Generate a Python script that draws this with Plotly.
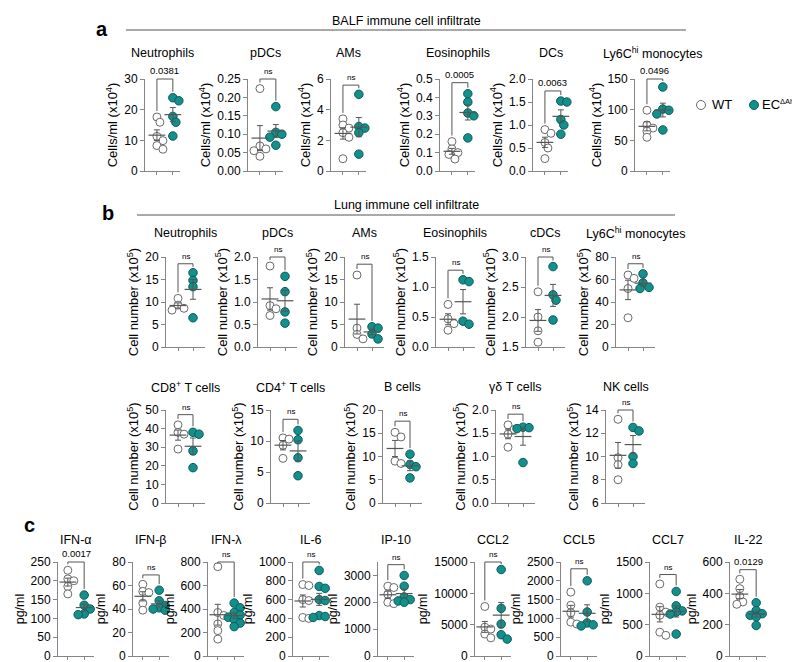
import numpy as np
import plotly.graph_objects as go

# ======================= DATA =======================
# ---- a: BALF immune cell infiltrate (Cells/ml x10^4)
a_titles = ["Neutrophils", "pDCs", "AMs", "Eosinophils", "DCs", "Ly6C<sup>hi</sup> monocytes"]
a_wt = [
    [17.6, 15.9, 11.3, 9.9, 8.3, 7.1],
    [0.224, 0.068, 0.060, 0.055, 0.040],
    [3.4, 3.0, 2.8, 2.5, 2.2, 0.8],
    [0.16, 0.12, 0.10, 0.09, 0.065],
    [0.90, 0.82, 0.62, 0.50, 0.27],
    [99, 75, 70, 65, 55],
]
a_ec = [
    [23.9, 22.9, 17.8, 15.9, 11.4],
    [0.175, 0.105, 0.100, 0.092, 0.070],
    [5.0, 2.9, 2.8, 2.5, 1.1],
    [0.42, 0.375, 0.315, 0.30, 0.18],
    [1.52, 1.50, 1.12, 1.00, 0.80],
    [137, 101, 99, 93, 67],
]
a_pvals = ["0.0381", "ns", "ns", "0.0005", "0.0063", "0.0496"]
a_yrange = [[0, 30], [0, 0.25], [0, 6], [0, 0.5], [0, 2.0], [0, 150]]
a_yticks = [[0, 10, 20, 30], [0, 0.05, 0.10, 0.15, 0.20, 0.25], [0, 2, 4, 6],
            [0, 0.1, 0.2, 0.3, 0.4, 0.5], [0, 0.5, 1.0, 1.5, 2.0], [0, 50, 100, 150]]
a_yticktext = [["0", "10", "20", "30"], ["0.00", "0.05", "0.10", "0.15", "0.20", "0.25"],
               ["0", "2", "4", "6"], ["0.0", "0.1", "0.2", "0.3", "0.4", "0.5"],
               ["0.0", "0.5", "1.0", "1.5", "2.0"], ["0", "50", "100", "150"]]
a_bracket = [30, 0.25, 5.6, 0.48, 1.74, 150]

# ---- b (row 1): Lung immune cell infiltrate (Cell number x10^5)
b1_titles = ["Neutrophils", "pDCs", "AMs", "Eosinophils", "cDCs", "Ly6C<sup>hi</sup> monocytes"]
b1_wt = [[10.8, 9.3, 8.6, 8.2], [1.80, 0.92, 0.85, 0.70], [16.0, 4.2, 2.8, 1.8],
         [0.71, 0.47, 0.39, 0.28], [2.42, 2.00, 1.77, 1.58], [64, 61, 52, 26]]
b1_ec = [[16.5, 14.8, 13.4, 6.5], [1.57, 1.23, 0.78, 0.53], [4.5, 4.2, 2.9, 1.8],
         [1.12, 1.09, 0.43, 0.38], [2.84, 2.37, 2.28, 1.95], [65, 57, 53, 52]]
b1_pvals = ["ns"] * 6
b1_yrange = [[0, 20], [0, 2.0], [0, 20], [0, 1.5], [1.5, 3.0], [0, 80]]
b1_yticks = [[0, 5, 10, 15, 20], [0, 0.5, 1.0, 1.5, 2.0], [0, 5, 10, 15, 20],
             [0, 0.5, 1.0, 1.5], [1.5, 2.0, 2.5, 3.0], [0, 20, 40, 60, 80]]
b1_yticktext = [["0", "5", "10", "15", "20"], ["0.0", "0.5", "1.0", "1.5", "2.0"],
                ["0", "5", "10", "15", "20"], ["0.0", "0.5", "1.0", "1.5"],
                ["1.5", "2.0", "2.5", "3.0"], ["0", "20", "40", "60", "80"]]
b1_bracket = [18.5, 2.0, 18.4, 1.28, 3.0, 74]

# ---- b (row 2)
b2_titles = ["CD8<sup>+</sup> T cells", "CD4<sup>+</sup> T cells", "B cells", "γδ T cells", "NK cells"]
b2_wt = [[42, 38, 37, 29], [10.5, 10.3, 9.3, 7.2], [15.2, 14.2, 9.0, 8.5],
         [1.68, 1.58, 1.48, 1.20], [13.2, 9.9, 9.3, 8.0]]
b2_ec = [[38, 37, 28, 19], [11.7, 10.2, 7.3, 4.4], [10.5, 8.3, 7.8, 5.4],
         [1.63, 1.62, 1.60, 0.87], [12.5, 12.2, 10.0, 9.4]]
b2_pvals = ["ns"] * 5
b2_yrange = [[0, 50], [0, 15], [0, 20], [0, 2.0], [6, 14]]
b2_yticks = [[0, 10, 20, 30, 40, 50], [0, 5, 10, 15], [0, 5, 10, 15, 20],
             [0, 0.5, 1.0, 1.5, 2.0], [6, 8, 10, 12, 14]]
b2_yticktext = [["0", "10", "20", "30", "40", "50"], ["0", "5", "10", "15"],
                ["0", "5", "10", "15", "20"], ["0.0", "0.5", "1.0", "1.5", "2.0"],
                ["6", "8", "10", "12", "14"]]
b2_bracket = [47.5, 13.5, 17.6, 1.91, 14]

# ---- c: cytokines (pg/ml)
c_titles = ["IFN-α", "IFN-β", "IFN-λ", "IL-6", "IP-10", "CCL2", "CCL5", "CCL7", "IL-22"]
c_wt = [[228, 205, 200, 185, 165], [61, 55, 54, 45, 39], [760, 370, 345, 273, 216, 144],
        [760, 750, 600, 590, 410, 400], [2600, 2550, 2300, 2000, 1950],
        [7900, 4600, 4300, 3500, 2900], [1700, 1350, 1150, 900, 850],
        [1150, 780, 700, 650, 380, 330], [490, 430, 380, 345, 330]]
c_ec = [[162, 135, 125, 112, 110], [56, 47, 43, 41, 40, 39],
        [450, 410, 370, 350, 330, 310, 280, 250],
        [910, 740, 720, 600, 590, 430, 420, 410], [3000, 2600, 2200, 2100, 2050, 2000],
        [13800, 7600, 5100, 3400, 2700], [2000, 1170, 880, 830, 800],
        [1030, 800, 720, 700, 670, 350], [340, 290, 270, 260, 250, 195]]
c_pvals = ["0.0017", "ns", "ns", "ns", "ns", "ns", "ns", "ns", "0.0129"]
c_yrange = [[0, 250], [0, 80], [0, 800], [0, 1000], [0, 3500], [0, 15000], [0, 2500], [0, 1500], [0, 600]]
c_yticks = [[0, 50, 100, 150, 200, 250], [0, 20, 40, 60, 80], [0, 200, 400, 600, 800],
            [0, 200, 400, 600, 800, 1000], [0, 1000, 2000, 3000], [0, 5000, 10000, 15000],
            [0, 500, 1000, 1500, 2000, 2500], [0, 500, 1000, 1500], [0, 200, 400, 600]]
c_yticktext = [[str(v) for v in t] for t in c_yticks]
c_bracket = [250, 69, 800, 1000, 3400, 15000, 2320, 1300, 551]

# legend labels
legend_labels = ["WT", "EC", "ΔAhr"]

# ======================= STYLE / LAYOUT =======================
W, H = 800, 662
FONT = "Arial, 'Liberation Sans', sans-serif"
TEAL = "#13908b"
TEAL_EDGE = "#0b5c59"
WT_EDGE = "#6a6a6a"
AXC = "#858585"
MEANC = "#555555"

# subplot boxes (left px, top px, width px, height px)
a_left = [137, 240, 323, 432, 525, 627]
b1_left = [158, 250, 337, 428, 518, 608]
b2_left = [158, 263, 375, 488, 598]
c_left = [50, 125, 200, 285, 370, 467, 553, 642, 722]

sections = [
    dict(titles=a_titles, wt=a_wt, ec=a_ec, p=a_pvals, yr=a_yrange, yt=a_yticks, ytt=a_yticktext,
         br=a_bracket, left=a_left, top=71, w=35, h=92, xr=[-0.75, 1.45], ty=45,
         ylab="Cells/ml (x10<sup>4</sup>)", ylabsize=13),
    dict(titles=b1_titles, wt=b1_wt, ec=b1_ec, p=b1_pvals, yr=b1_yrange, yt=b1_yticks, ytt=b1_yticktext,
         br=b1_bracket, left=b1_left, top=249, w=39, h=90, xr=[-0.8, 1.8], ty=225,
         ylab="Cell number (x10<sup>5</sup>)", ylabsize=13),
    dict(titles=b2_titles, wt=b2_wt, ec=b2_ec, p=b2_pvals, yr=b2_yrange, yt=b2_yticks, ytt=b2_yticktext,
         br=b2_bracket, left=b2_left, top=402, w=39, h=93, xr=[-0.8, 1.8], ty=379,
         ylab="Cell number (x10<sup>5</sup>)", ylabsize=13),
    dict(titles=c_titles, wt=c_wt, ec=c_ec, p=c_pvals, yr=c_yrange, yt=c_yticks, ytt=c_yticktext,
         br=c_bracket, left=c_left, top=554, w=36, h=94, xr=[-0.6, 1.6], ty=532,
         ylab="pg/ml", ylabsize=12.5),
]


def swarm_offsets(vals, ppu_x, ppu_y, dmin=6.0, step=3.0):
    vals = np.asarray(vals, float)
    order = np.argsort(-vals)
    placed = []
    offs = np.zeros(len(vals))
    cands = [0, step, -step, 2 * step, -2 * step]
    for i in order:
        y = vals[i] * ppu_y
        best, bestd = 0.0, -1.0
        for c in cands:
            d = min([np.hypot(c - px, y - py) for px, py in placed], default=1e9)
            if d >= dmin:
                best = c
                break
            if d > bestd:
                best, bestd = c, d
        placed.append((best, y))
        offs[i] = best / ppu_x
    return offs


fig = go.Figure()
shapes, annotations, axes = [], [], {}
k = 0
for sec in sections:
    for i, title in enumerate(sec["titles"]):
        k += 1
        s = "" if k == 1 else str(k)
        left, top, w, h = sec["left"][i], sec["top"], sec["w"], sec["h"]
        ymin, ymax = sec["yr"][i]
        xr = sec["xr"]
        ppu_y = h / (ymax - ymin)
        ppu_x = w / (xr[1] - xr[0])
        wt = np.asarray(sec["wt"][i], float)
        ec = np.asarray(sec["ec"][i], float)

        axes["xaxis" + s] = dict(domain=[left / W, (left + w) / W], range=xr, anchor="y" + s,
                                 showgrid=False, zeroline=False, showline=True, linecolor=AXC,
                                 linewidth=1, ticks="outside", ticklen=3, tickcolor=AXC,
                                 tickvals=[0, 1], showticklabels=False, fixedrange=True)
        axes["yaxis" + s] = dict(domain=[1 - (top + h) / H, 1 - top / H], range=[ymin, ymax],
                                 anchor="x" + s, showgrid=False, zeroline=False, showline=True,
                                 linecolor=AXC, linewidth=1, ticks="outside", ticklen=4,
                                 tickcolor=AXC, tickvals=sec["yt"][i], ticktext=sec["ytt"][i],
                                 tickfont=dict(size=12, color="black"), automargin=False,
                                 title=dict(text=sec["ylab"], standoff=3,
                                            font=dict(size=sec["ylabsize"], color="black")),
                                 fixedrange=True)

        fig.add_trace(go.Scatter(
            x=0 + swarm_offsets(wt, ppu_x, ppu_y), y=wt, mode="markers", xaxis="x" + s, yaxis="y" + s,
            marker=dict(symbol="circle", size=8, color="white", line=dict(color=WT_EDGE, width=1)),
            cliponaxis=False, showlegend=False, hoverinfo="y"))
        fig.add_trace(go.Scatter(
            x=1 + swarm_offsets(ec, ppu_x, ppu_y), y=ec, mode="markers", xaxis="x" + s, yaxis="y" + s,
            marker=dict(symbol="circle", size=8.5, color=TEAL, line=dict(color=TEAL_EDGE, width=1)),
            cliponaxis=False, showlegend=False, hoverinfo="y"))
        means = [wt.mean(), ec.mean()]
        sems = [wt.std(ddof=1) / np.sqrt(len(wt)), ec.std(ddof=1) / np.sqrt(len(ec))]
        fig.add_trace(go.Scatter(
            x=[0, 1], y=means, mode="markers", xaxis="x" + s, yaxis="y" + s,
            marker=dict(symbol="line-ew", size=12, line=dict(color=MEANC, width=1.2)),
            error_y=dict(type="data", array=sems, visible=True, color=MEANC, thickness=1, width=3),
            cliponaxis=False, showlegend=False, hoverinfo="y"))

        # significance bracket (x in data units, y in axis-domain fraction)
        def frac(v):
            return (v - ymin) / (ymax - ymin)
        fb = frac(sec["br"][i])
        pad = 6.0 / h
        f0 = min(frac(wt.max()) + pad, fb - 2.0 / h)
        f1 = min(frac(ec.max()) + pad, fb - 2.0 / h)
        for (x0, y0, x1, y1) in [(0, f0, 0, fb), (0, fb, 1, fb), (1, fb, 1, f1)]:
            shapes.append(dict(type="line", xref="x" + s, yref="y" + s + " domain",
                               x0=x0, y0=y0, x1=x1, y1=y1, line=dict(color=MEANC, width=1)))
        pv = sec["p"][i]
        annotations.append(dict(x=0.5, y=fb, xref="x" + s, yref="y" + s + " domain",
                                text=pv, showarrow=False, yanchor="bottom", yshift=1,
                                font=dict(size=8 if pv == "ns" else 9.5, color="black")))
        # subplot title
        annotations.append(dict(x=(left + w / 2) / W, y=1 - sec["ty"] / H, xref="paper", yref="paper",
                                text=title, showarrow=False, xanchor="center", yanchor="middle",
                                font=dict(size=12.5, color="black")))

# panel letters and section headers
for txt, px, py in [("a", 94, 21), ("b", 100, 205), ("c", 21, 517)]:
    annotations.append(dict(x=px / W, y=1 - py / H, xref="paper", yref="paper", text="<b>" + txt + "</b>",
                            showarrow=False, xanchor="center", yanchor="middle",
                            font=dict(size=20, color="black")))
for txt, py, x0, x1, ly in [("BALF immune cell infiltrate", 13, 118, 678, 22),
                            ("Lung immune cell infiltrate", 197, 129, 667, 207)]:
    annotations.append(dict(x=398 / W, y=1 - py / H, xref="paper", yref="paper", text=txt,
                            showarrow=False, xanchor="center", yanchor="middle",
                            font=dict(size=12.5, color="black")))
    shapes.append(dict(type="line", xref="paper", yref="paper", x0=x0 / W, x1=x1 / W,
                       y0=1 - ly / H, y1=1 - ly / H, line=dict(color="#555555", width=1)))

# legend (WT / EC^ΔAhr)
r = 4.5
for cx, fill, edge, txt, tx in [(693, "white", WT_EDGE, legend_labels[0], 702),
                                (746, TEAL, TEAL_EDGE, legend_labels[1], 752)]:
    shapes.append(dict(type="circle", xref="paper", yref="paper", x0=(cx - r) / W, x1=(cx + r) / W,
                       y0=1 - (97 + r) / H, y1=1 - (97 - r) / H, fillcolor=fill,
                       line=dict(color=edge, width=1)))
    annotations.append(dict(x=tx / W, y=1 - 97 / H, xref="paper", yref="paper", text=txt,
                            showarrow=False, xanchor="left", yanchor="middle",
                            font=dict(size=13, color="black")))
annotations.append(dict(x=770 / W, y=1 - 93 / H, xref="paper", yref="paper", text=legend_labels[2],
                        showarrow=False, xanchor="left", yanchor="middle",
                        font=dict(size=7.5, color="black")))

fig.update_layout(width=W, height=H, margin=dict(l=0, r=0, t=0, b=0),
                  paper_bgcolor="white", plot_bgcolor="white", showlegend=False,
                  font=dict(family=FONT, color="black"), shapes=shapes, annotations=annotations,
                  **axes)
fig.write_html("out.html")
